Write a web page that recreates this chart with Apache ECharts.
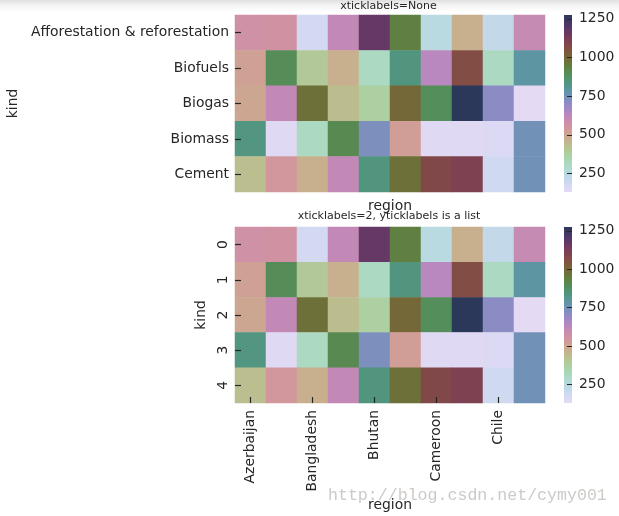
<!DOCTYPE html>
<html><head><meta charset="utf-8">
<script src="https://cdn.jsdelivr.net/npm/echarts@6/dist/echarts.min.js"></script>
<style>
html,body{margin:0;padding:0;background:#fff;}
body{background:linear-gradient(#e0e0e0 0px,#f3f3f3 5px,#fff 12px) no-repeat;}
#c{width:619px;height:516px;}
</style>
</head><body><div id="c"></div>
<script>
const regions = ['Azerbaijan','Bahamas','Bangladesh','Belize','Bhutan','Bolivia','Cameroon','Cape Verde','Chile','China'];
const kinds = ['Afforestation & reforestation','Biofuels','Biogas','Biomass','Cement'];
const kindIndexLabels = ['0','1','2','3','4'];
const afforestation = [565,560,176,611,1172,937,245,474,216,600];
const biofuels      = [514,897,399,474,313,840,634,1063,310,788];
const biogas        = [496,611,974,433,370,995,891,1275,708,130];
const biomass       = [834,141,313,909,731,525,141,141,153,748];
const cement        = [428,542,474,611,840,974,1080,1103,187,748];
const colorbarTicks = [250,500,750,1000,1250];

const rows = [afforestation, biofuels, biogas, biomass, cement];
const cells = [];
rows.forEach((row, y) => row.forEach((v, x) => cells.push([x, y, v])));
const allVals = cells.map(c => c[2]);
const VMIN = Math.min(...allVals), VMAX = Math.max(...allVals);

// seaborn cubehelix_palette(start=1.5, rot=3, gamma=0.8, as_cmap=True)
function cubehelix(x){
  const start=1.5, rot=3, gamma=0.8, hue=0.8;
  const xg = Math.pow(x, gamma);
  const a = hue*xg*(1-xg)/2;
  const phi = 2*Math.PI*(start/3 + rot*x);
  const c = Math.cos(phi), s = Math.sin(phi);
  const f = (p0,p1) => Math.round(255*Math.min(1, Math.max(0, xg + a*(p0*c + p1*s))));
  return 'rgb(' + f(-0.14861,1.78277) + ',' + f(-0.29227,-0.90649) + ',' + f(1.97294,0) + ')';
}
const stops = [];
for (let i = 0; i <= 96; i++) { const t = i/96; stops.push(cubehelix(0.85 - 0.7*t)); }

const FONT = 'DejaVu Sans';
const TXT = '#262626';
const FS = 13.9;

const chart = echarts.init(document.getElementById('c'), null, {renderer:'canvas'});
const gradient = new echarts.graphic.LinearGradient(0, 1, 0, 0,
  stops.map((c, i) => ({offset: i/(stops.length-1), color: c})));

function cbar(gi){
  return {
    type:'custom', xAxisIndex:gi, yAxisIndex:gi, silent:true, z:1,
    data:[[0, VMAX]],
    renderItem:(params, api) => ({
      type:'rect',
      shape:{x:params.coordSys.x, y:params.coordSys.y, width:params.coordSys.width, height:params.coordSys.height},
      style:{fill:gradient}
    })
  };
}
function cbAxis(gi){
  return {
    type:'value', gridIndex:gi, min:VMIN, max:VMAX, position:'right', z:10,
    axisLine:{show:false}, splitLine:{show:false},
    axisTick:{show:true, inside:true, length:5, customValues:colorbarTicks, lineStyle:{color:TXT, width:1}},
    axisLabel:{customValues:colorbarTicks, margin:7, fontSize:FS, color:TXT, fontFamily:FONT,
      formatter:(v) => String(v)}
  };
}

const option = {
  animation:false,
  textStyle:{fontFamily:FONT},
  grid:[
    {left:235, top:15, width:310, height:177, outerBoundsMode:'none'},
    {left:235, top:227, width:310, height:176, outerBoundsMode:'none'},
    {left:564, top:15, width:8, height:177, outerBoundsMode:'none'},
    {left:564, top:227, width:8, height:176, outerBoundsMode:'none'}
  ],
  xAxis:[
    {type:'category', gridIndex:0, data:regions, axisLine:{show:false}, axisTick:{show:false},
     axisLabel:{show:false}, splitLine:{show:false},
     name:'region', nameLocation:'middle', nameGap:7,
     nameTextStyle:{fontSize:FS, color:TXT, fontFamily:FONT, verticalAlign:'top'}},
    {type:'category', gridIndex:1, data:regions, axisLine:{show:false}, z:10,
     axisTick:{show:true, inside:true, length:6, interval:1, alignWithLabel:true, lineStyle:{color:TXT, width:1.2}},
     axisLabel:{interval:1, rotate:90, margin:7, fontSize:FS, color:TXT, fontFamily:FONT},
     splitLine:{show:false},
     name:'region', nameLocation:'middle', nameGap:95,
     nameTextStyle:{fontSize:FS, color:TXT, fontFamily:FONT, verticalAlign:'top'}},
    {type:'category', gridIndex:2, data:['c'], show:false},
    {type:'category', gridIndex:3, data:['c'], show:false}
  ],
  yAxis:[
    {type:'category', gridIndex:0, data:kinds, inverse:true, axisLine:{show:false}, z:10,
     axisTick:{show:true, inside:true, length:6, alignWithLabel:true, lineStyle:{color:TXT, width:1.2}},
     axisLabel:{fontSize:FS, color:TXT, fontFamily:FONT, margin:6},
     splitLine:{show:false},
     name:'kind', nameLocation:'middle', nameGap:208,
     nameTextStyle:{fontSize:FS, color:TXT, fontFamily:FONT}},
    {type:'category', gridIndex:1, data:kindIndexLabels, inverse:true, axisLine:{show:false}, z:10,
     axisTick:{show:true, inside:true, length:6, alignWithLabel:true, lineStyle:{color:TXT, width:1.2}},
     axisLabel:{fontSize:FS, color:TXT, fontFamily:FONT, margin:5, rotate:90},
     splitLine:{show:false},
     name:'kind', nameLocation:'middle', nameGap:17,
     nameTextStyle:{fontSize:FS, color:TXT, fontFamily:FONT}},
    cbAxis(2), cbAxis(3)
  ],
  visualMap:{type:'continuous', show:false, min:VMIN, max:VMAX, seriesIndex:[0,1], dimension:2,
    inRange:{color:stops}},
  graphic:[
    {type:'text', x:388.5, y:6, z:50, style:{text:'xticklabels=None', textAlign:'center', textVerticalAlign:'middle', font:'11px "DejaVu Sans"', fill:TXT}},
    {type:'text', x:389, y:216, z:50, style:{text:'xticklabels=2, yticklabels is a list', textAlign:'center', textVerticalAlign:'middle', font:'11px "DejaVu Sans"', fill:TXT}},
    {type:'text', x:328, y:496, z:100, style:{text:'http://blog.csdn.net/cymy001', textVerticalAlign:'middle', font:'16.6px "Liberation Mono"', fill:'rgba(170,165,160,0.6)'}}
  ],
  series:[
    {type:'heatmap', xAxisIndex:0, yAxisIndex:0, data:cells, z:1, emphasis:{disabled:true}, itemStyle:{borderWidth:0}},
    {type:'heatmap', xAxisIndex:1, yAxisIndex:1, data:cells, z:1, emphasis:{disabled:true}, itemStyle:{borderWidth:0}},
    cbar(2), cbar(3)
  ]
};
chart.setOption(option);
</script>
</body></html>
